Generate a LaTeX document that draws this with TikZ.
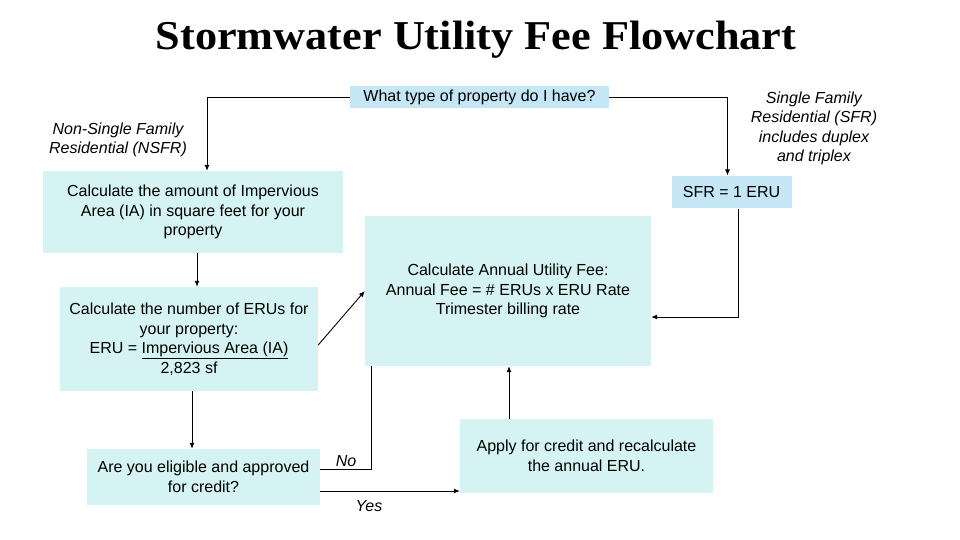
\documentclass[tikz,border=0pt]{standalone}
\usepackage{fontspec}
\setmainfont{Liberation Sans}
\newfontfamily\titlefont{Liberation Serif}
\usetikzlibrary{arrows.meta}
\definecolor{cyanbox}{RGB}{214,243,243}
\definecolor{bluebox}{RGB}{196,230,245}
\tikzset{
  box/.style={fill=cyanbox, draw=none, align=center, inner sep=0pt, font=\fontsize{16}{19.5}\selectfont},
  bluebx/.style={box, fill=bluebox},
  conn/.style={draw=black, line width=0.9pt},
  arr/.style={conn, -{Latex[length=6pt,width=5pt]}},
  lbl/.style={align=center, inner sep=0pt, font=\fontsize{16}{19.5}\selectfont\itshape}
}
\begin{document}
\begin{tikzpicture}[x=1pt,y=-1pt]
\useasboundingbox[fill=white] (0,0) rectangle (960,540);
\node[font=\titlefont\bfseries\fontsize{41}{44}\selectfont] (title) at (476,40) {\scalebox{1.08}[1]{Stormwater Utility Fee Flowchart}};
\node[bluebx, minimum width=259pt, minimum height=22pt] (top) at (479.5,97) {What type of property do I have?};
\node[bluebx, draw=white, line width=1pt, minimum width=121pt, minimum height=32pt] (sfr) at (731.5,192) {SFR = 1 ERU};
\node[box, minimum width=300pt, minimum height=82pt] (b1) at (193,212) {Calculate the amount of Impervious\\Area (IA) in square feet for your\\property};
\node[box, minimum width=258pt, minimum height=104pt] (b2) at (189,339) {Calculate the number of ERUs for\\your property:\\ERU = \underline{Impervious Area (IA)}\\2,823 sf};
\node[box, minimum width=233pt, minimum height=56pt] (b3) at (203.5,477) {Are you eligible and approved\\for credit?};
\node[box, minimum width=286pt, minimum height=150pt] (b4) at (508,291) {Calculate Annual Utility Fee:\\Annual Fee = \# ERUs x ERU Rate\\Trimester billing rate};
\node[box, minimum width=253pt, minimum height=74pt] (b5) at (586.5,456) {Apply for credit and recalculate\\the annual ERU.};
\node[lbl] (nsfr) at (118,140) {Non-Single Family\\Residential (NSFR)};
\node[lbl] (sfrl) at (814,128.5) {Single Family\\Residential (SFR)\\includes duplex\\and triplex};
\node[lbl] (no) at (346,461) {No};
\node[lbl] (yes) at (369,506) {Yes};
\draw[arr] (top.west) -| ([xshift=14pt]b1.north);
\draw[arr] (top.east) -| ([xshift=-4pt]sfr.north);
\draw[arr] ([xshift=4pt]b1.south) -- ([xshift=8pt]b2.north);
\draw[arr] ([yshift=-6pt]b2.east) -- (b4.west);
\draw[arr] ([xshift=3pt]b2.south) -- ([xshift=-11.5pt]b3.north);
\draw[conn] ([yshift=8pt]b3.east) -| ([xshift=-137pt]b4.south);
\draw[arr] ([yshift=-14pt]b3.east) -- ([yshift=-14pt]b3.east -| b5.west);
\draw[arr] ([xshift=-77.5pt]b5.north) -- ([xshift=-77.5pt]b5.north |- b4.south);
\draw[arr] ([xshift=6.5pt]sfr.south) |- ([yshift=-26pt]b4.east);
\end{tikzpicture}
\end{document}
